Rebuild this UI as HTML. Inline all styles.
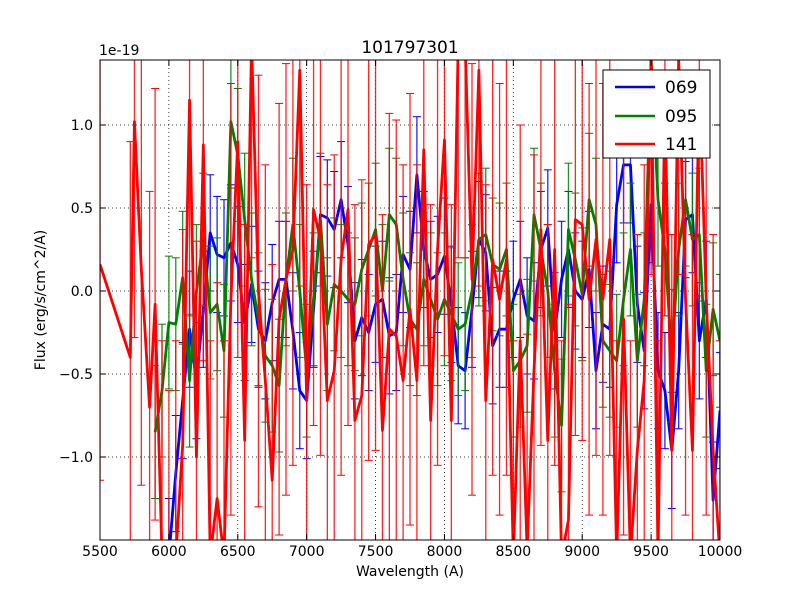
<!DOCTYPE html>
<html><head><meta charset="utf-8"><style>
html,body{margin:0;padding:0;background:#fff;width:800px;height:600px;overflow:hidden;}
svg{display:block;font-family:"DejaVu Sans","Liberation Sans",sans-serif;}
</style></head><body>
<svg id="chart" width="800" height="600">
<rect width="800" height="600" fill="#fff"/>
<text x="410" y="53" text-anchor="middle" font-size="17">101797301</text>
<text x="99" y="55" font-size="14">1e-19</text>
<text x="410" y="576" text-anchor="middle" font-size="14">Wavelength (A)</text>
<text transform="translate(45,300) rotate(-90)" text-anchor="middle" font-size="14">Flux (erg/s/cm^2/A)</text>
<defs><clipPath id="pc"><rect x="100" y="60" width="620" height="480"/></clipPath></defs>
<g id="grid"></g>
<g id="series" clip-path="url(#pc)"></g>
<rect x="100" y="60" width="620" height="480" fill="none" stroke="#000" stroke-width="1"/>
<g id="ticks"></g>
<g>
<rect x="603" y="70" width="107" height="88" fill="#fff" stroke="#000" stroke-width="1"/>
<line x1="615" y1="87" x2="655" y2="87" stroke="#0000ff" stroke-width="2.5"/>
<text x="665" y="93" font-size="17">069</text>
<line x1="615" y1="116" x2="655" y2="116" stroke="#008000" stroke-width="2.5"/>
<text x="665" y="122" font-size="17">095</text>
<line x1="615" y1="144" x2="655" y2="144" stroke="#ff0000" stroke-width="2.5"/>
<text x="665" y="150" font-size="17">141</text>
</g>
</svg>
<script>
const xTicks=[5500,6000,6500,7000,7500,8000,8500,9000,9500,10000];
const yTicks=[-1.0,-0.5,0.0,0.5,1.0];
const yTickLabels=["\u22121.0","\u22120.5","0.0","0.5","1.0"];
const grid=[6000,6050,6100,6150,6200,6250,6300,6350,6400,6450,6500,6550,6600,6650,6700,6750,6800,6850,6900,6950,7000,7050,7100,7150,7200,7250,7300,7350,7400,7450,7500,7550,7600,7650,7700,7750,7800,7850,7900,7950,8000,8050,8100,8150,8200,8250,8300,8350,8400,8450,8500,8550,8600,8650,8700,8750,8800,8850,8900,8950,9000,9050,9100,9150,9200,9250,9300,9350,9400,9450,9500,9550,9600,9650,9700,9750,9800,9850,9900,9950,10000];
const blueWl=grid;
const blueVals=[-1.6,-1.1,-0.66,-0.23,-0.54,-0.11,0.35,0.22,0.2,0.29,0.16,-0.19,0.04,-0.23,-0.3,-0.07,0.07,0.07,-0.24,-0.6,-0.66,-0.11,0.46,0.44,0.37,0.55,0.28,-0.3,-0.16,-0.25,-0.08,-0.05,-0.27,-0.25,0.22,0.13,0.7,0.25,0.07,0.1,0.21,-0.08,-0.45,-0.48,-0.11,0.31,0.23,-0.33,-0.23,-0.23,-0.05,0.07,-0.15,-0.18,0.25,0.38,-0.24,0.07,0.25,0.0,-0.05,0.13,-0.48,-0.2,-0.23,0.52,0.76,0.76,-0.08,-0.36,0.52,-0.48,-0.6,-0.96,-0.48,0.43,0.46,-0.3,-0.05,-1.26,-0.72];
const blueErr=[0.35];
const greenWl=[5900,5950].concat(grid);
const greenVals=[-0.85,-0.6,-0.19,-0.2,0.08,-0.54,0.0,0.31,-0.13,-0.08,-0.36,1.02,0.82,0.43,0.07,-0.17,-0.39,-0.45,-0.57,0.07,0.4,0.0,-0.48,-0.05,0.43,-0.2,0.04,0.0,-0.05,-0.08,0.13,0.25,0.37,0.0,0.46,0.4,0.07,-0.17,-0.23,0.07,-0.05,-0.17,-0.05,-0.14,-0.23,-0.2,0.0,0.31,0.34,0.16,0.13,0.25,-0.48,-0.42,-0.33,0.46,0.25,0.0,-0.48,-0.81,0.37,0.19,-0.02,0.55,0.4,-0.3,-0.36,-0.42,-0.05,0.25,-0.42,-0.05,1.4,0.55,0.25,-0.39,0.25,0.55,0.31,0.34,-0.48,-0.11,-0.3];
const greenErr=[0.4];
const redWl=[5500,5720,5750,5800,5860,5900,5950].concat(grid);
const redVals=[0.16,-0.4,1.02,0.13,-0.7,-0.08,-1.6,-1.9,-1.6,-0.93,1.15,-1.0,0.88,-1.6,-1.25,-1.6,-0.05,0.9,-0.9,1.5,0.0,-0.54,-1.14,-0.17,0.07,0.25,1.33,-0.66,0.49,0.31,-0.66,-0.48,0.19,0.49,-0.78,-0.63,0.28,0.34,-0.84,-0.23,-0.27,-0.54,-0.11,-0.54,0.85,-0.78,0.25,0.91,-0.78,1.5,1.5,0.07,1.33,-0.66,0.19,-0.05,0.19,-1.6,-0.3,-1.56,-0.48,0.37,-0.9,0.25,-1.6,-1.38,0.43,0.4,-0.05,0.31,-0.05,0.31,-1.6,-0.17,-1.6,-0.96,-0.54,1.4,-1.6,1.15,-0.96,1.4,-0.05,-0.96,1.27,-0.05,-0.96,-1.6];
const redErr=[1.3];

const X=w=>100+(w-5500)*620/4500;
const Y=v=>291-v*166;
const NS="http://www.w3.org/2000/svg";
function mk(tag,attrs,parent){const e=document.createElementNS(NS,tag);for(const k in attrs)e.setAttribute(k,attrs[k]);parent.appendChild(e);return e;}
const gGrid=document.getElementById('grid'),gT=document.getElementById('ticks'),gS=document.getElementById('series');
xTicks.forEach((t,i)=>{const x=X(t);
 if(i>0&&i<xTicks.length-1){const l=mk('line',{x1:x,y1:60,x2:x,y2:540,stroke:'#000','stroke-dasharray':'1,3','stroke-width':0.8},gGrid);
 
 }
 mk('line',{x1:x,y1:540,x2:x,y2:534,stroke:'#000'},gT);mk('line',{x1:x,y1:60,x2:x,y2:66,stroke:'#000'},gT);
 const tx=mk('text',{x:x,y:556,'text-anchor':'middle','font-size':14},gT);tx.textContent=t;
 
 });
yTicks.forEach((t,i)=>{const y=Y(t);
 const l=mk('line',{x1:100,y1:y,x2:720,y2:y,stroke:'#000','stroke-dasharray':'1,3','stroke-width':0.8},gGrid);
 
 
 mk('line',{x1:100,y1:y,x2:106,y2:y,stroke:'#000'},gT);mk('line',{x1:720,y1:y,x2:714,y2:y,stroke:'#000'},gT);
 const tx=mk('text',{x:93,y:y+5,'text-anchor':'end','font-size':14},gT);tx.textContent=yTickLabels[i];
 
 });
function series(wl,vals,err,color,name){
 const g=mk('g',{},gS);
 
 
 let pts=[];
 wl.forEach((w,i)=>{const x=X(w),v=vals[i],e=err[i%err.length];
  const y1=Y(v+e),y2=Y(v-e);
  const b=mk('line',{x1:x,y1:y1,x2:x,y2:y2,stroke:color,'stroke-width':1.3,opacity:0.85},g);
  
  
  mk('line',{x1:x-4,y1:y1,x2:x+4,y2:y1,stroke:color,'stroke-width':1},g);
  mk('line',{x1:x-4,y1:y2,x2:x+4,y2:y2,stroke:color,'stroke-width':1},g);
  pts.push(x+','+Y(v));});
 const p=mk('polyline',{points:pts.join(' '),fill:'none',stroke:color,'stroke-width':2.8,'stroke-linejoin':'round'},g);
 
 
}
series(blueWl,blueVals,blueErr,'#0000ff','069');
series(greenWl,greenVals,greenErr,'#008000','095');
series(redWl,redVals,redErr,'#ff0000','141');
</script>
</body></html>
